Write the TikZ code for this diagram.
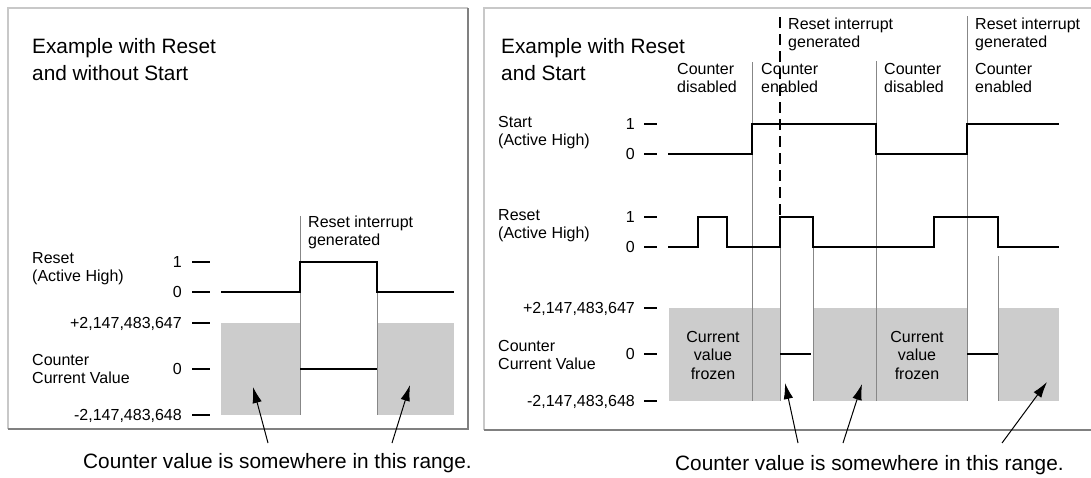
\documentclass[tikz,border=0pt]{standalone}
\usepackage{fontspec}
\setmainfont{Liberation Sans}
\usetikzlibrary{arrows.meta}
\definecolor{frozengray}{RGB}{204,204,204}
\definecolor{framelight}{RGB}{200,200,200}
\definecolor{framedark}{RGB}{128,128,128}
\definecolor{divgray}{RGB}{135,135,135}

\begin{document}
\begin{tikzpicture}[x=1pt,y=-1pt,
    lbl/.style={font=\fontsize{16}{18.5}\selectfont,inner sep=0pt,align=left},
    headline/.style={font=\fontsize{20.8}{26.7}\selectfont,inner sep=0pt,align=left},
    wave/.style={line width=1.3pt},
    divider/.style={divgray,line width=1pt},
    tickline/.style={line width=1.2pt},
    pointer/.style={line width=1pt,-{Latex[length=16pt,width=9.5pt]}}]
  \useasboundingbox (0,0) rectangle (1091,477);

  % left panel: reset only
  \draw[framelight,line width=1.5pt] (8,429) -- (8,8) -- (468,8);
  \draw[framedark,line width=2pt] (468,8) -- (468,429) -- (8,429);
  \node[headline,anchor=base west] (ltitle) at (32,80)
    {Example with Reset\\and without Start};
  \node[lbl,anchor=base west] (lreset) at (32,281.5) {Reset\\(Active High)};
  \node[lbl,anchor=base west] (lcount) at (32,383.5) {Counter\\Current Value};
  \foreach \y/\v [count=\i] in {262/1,292/0,323/{+2,147,483,647},369/0,415/{-2,147,483,648}} {
    \node[lbl,anchor=base east] (lval\i) at (182,\y+5.5) {\v};
    \draw[tickline] (192,\y) -- (210,\y);
  }
  \fill[frozengray] (221,323) rectangle (300,415);
  \fill[frozengray] (377,323) rectangle (454,415);
  \draw[divider] (300,216) -- (300,415);
  \draw[divider] (377,292) -- (377,415);
  \draw[wave] (221,292) -- (300,292) -- (300,262) -- (377,262) -- (377,292) -- (454,292);
  \draw[wave] (300,369) -- (377,369);
  \node[lbl,anchor=base west] (lirq) at (308,245.5) {Reset interrupt\\generated};
  \node[headline,anchor=base west] (lrange) at (83,468)
    {Counter value is somewhere in this range.};
  \coordinate (lfromA) at (268,443); \coordinate (ltoA) at (253,387);
  \coordinate (lfromB) at (392,443); \coordinate (ltoB) at (410,385);
  \draw[pointer] (lfromA) -- (ltoA);
  \draw[pointer] (lfromB) -- (ltoB);

  % right panel: reset and start
  \draw[framelight,line width=2.5pt] (484,430) -- (484,8) -- (1091,8);
  \draw[framedark,line width=2pt] (484,430) -- (1091,430);
  \node[headline,anchor=base west] (rtitle) at (501,80)
    {Example with Reset\\and Start};
  \node[lbl,anchor=base west] (rstart) at (498,145.5) {Start\\(Active High)};
  \node[lbl,anchor=base west] (rreset) at (498,238.5) {Reset\\(Active High)};
  \node[lbl,anchor=base west] (rcount) at (498,369.5) {Counter\\Current Value};
  \foreach \y/\v [count=\i] in {124/1,154/0,217/1,247/0,308/{+2,147,483,647},354/0,401/{-2,147,483,648}} {
    \node[lbl,anchor=base east] (rval\i) at (635,\y+5.5) {\v};
    \draw[tickline] (644,\y) -- (657,\y);
  }
  \node[lbl,anchor=base west] (rstate1) at (677,92.5) {Counter\\disabled};
  \node[lbl,anchor=base west] (rstate2) at (761,92.5) {Counter\\enabled};
  \node[lbl,anchor=base west] (rstate3) at (884,92.5) {Counter\\disabled};
  \node[lbl,anchor=base west] (rstate4) at (975,92.5) {Counter\\enabled};
  \node[lbl,anchor=base west] (rirq1) at (788,47.5) {Reset interrupt\\generated};
  \node[lbl,anchor=base west] (rirq2) at (975,47.5) {Reset interrupt\\generated};
  \fill[frozengray] (669,308) rectangle (780,401);
  \fill[frozengray] (813,308) rectangle (967,401);
  \fill[frozengray] (998,308) rectangle (1059,401);
  \draw[divider] (752,62) -- (752,401);
  \draw[divider] (876,61) -- (876,401);
  \draw[divider] (967,16) -- (967,401);
  \draw[divider] (780,247) -- (780,401);
  \draw[divider] (813,247) -- (813,401);
  \draw[divider] (998,256) -- (998,401);
  \draw[wave,dash pattern=on 11pt off 6pt] (780,17) -- (780,217);
  \draw[wave] (668,154) -- (752,154) -- (752,124) -- (876,124) -- (876,154)
    -- (967,154) -- (967,124) -- (1059,124);
  \draw[wave] (668,247) -- (698,247) -- (698,217) -- (727,217) -- (727,247)
    -- (780,247) -- (780,217) -- (813,217) -- (813,247) -- (934,247)
    -- (934,217) -- (998,217) -- (998,247) -- (1059,247);
  \draw[wave] (780,354) -- (811,354);
  \draw[wave] (967,354) -- (998,354);
  \node[lbl,align=center,anchor=base] (rfrozen1) at (713,379) {Current\\value\\frozen};
  \node[lbl,align=center,anchor=base] (rfrozen2) at (917,379) {Current\\value\\frozen};
  \node[headline,anchor=base west] (rrange) at (675,470)
    {Counter value is somewhere in this range.};
  \coordinate (rfromA) at (798,443); \coordinate (rtoA) at (785,383);
  \coordinate (rfromB) at (843,443); \coordinate (rtoB) at (862,384);
  \coordinate (rfromC) at (1002,443); \coordinate (rtoC) at (1047,382);
  \draw[pointer] (rfromA) -- (rtoA);
  \draw[pointer] (rfromB) -- (rtoB);
  \draw[pointer] (rfromC) -- (rtoC);
\end{tikzpicture}
\end{document}
